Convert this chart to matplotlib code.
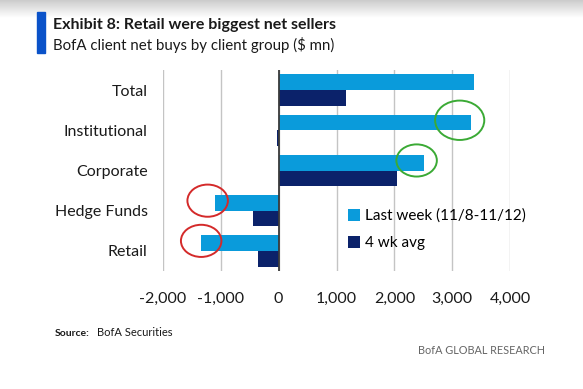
import matplotlib
matplotlib.use("Agg")
import matplotlib.pyplot as plt
import numpy as np
from matplotlib.patches import Ellipse, Patch, Rectangle

categories = ["Total", "Institutional", "Corporate", "Hedge Funds", "Retail"]
last_week = [3370, 3320, 2515, -1100, -1340]
four_wk_avg = [1160, -30, 2050, -440, -360]
xticks = [-2000, -1000, 0, 1000, 2000, 3000, 4000]

# annotation circles: (category, x offset from bar end, colour)
circled = [("Institutional", -190, "#3BAA35"), ("Corporate", -130, "#3BAA35"),
           ("Hedge Funds", -128, "#D42A2A"), ("Retail", 0, "#D42A2A")]

c_light = "#0A9BDB"
c_navy = "#0B226A"
c_text = "#1A1A1A"

plt.rcParams["font.family"] = ["Lato", "DejaVu Sans"]

fig = plt.figure(figsize=(5.83, 3.89), dpi=100)
fig.patch.set_facecolor("white")

# grey shadow at the top of the screenshot
grad = fig.add_axes([0, 0.955, 1, 0.045])
grad.imshow(np.linspace(0.80, 1.0, 50).reshape(-1, 1), cmap="gray", vmin=0, vmax=1,
            aspect="auto", extent=[0, 1, 0, 1])
grad.axis("off")

ax = fig.add_axes([0.2796, 0.3033, 0.5952, 0.5167])
y = np.arange(len(categories))
h = 0.39
ax.barh(y - h / 2, last_week, height=h, color=c_light, zorder=3)
ax.barh(y + h / 2, four_wk_avg, height=h, color=c_navy, zorder=3)

ax.set_xlim(-2000, 4000)
ax.set_ylim(len(categories) - 0.5, -0.5)
ax.set_xticks(xticks)
ax.set_xticklabels([f"{v:,}" for v in xticks], fontsize=11.5, color=c_text)
ax.set_yticks(y)
ax.set_yticklabels(categories, fontsize=11.5, color=c_text)
ax.tick_params(length=0)
ax.tick_params(axis="x", pad=15)
ax.tick_params(axis="y", pad=11)
for s in ax.spines.values():
    s.set_visible(False)
ax.grid(axis="x", color="#C4C4C4", linewidth=1.0, zorder=0)
ax.axvline(0, color="#3A3A3A", linewidth=1.3, zorder=4)

for cat, dx, col in circled:
    i = categories.index(cat)
    v = last_week[i]
    w, hh = (850, 0.98) if cat == "Institutional" else (700, 0.8)
    ax.add_patch(Ellipse((v + dx, i - 0.25), w, hh, fill=False, edgecolor=col,
                         linewidth=1.4, zorder=6, clip_on=False))

handles = [Patch(facecolor=c_light, label="Last week (11/8-11/12)"),
           Patch(facecolor=c_navy, label="4 wk avg")]
ax.legend(handles=handles, loc="upper left", bbox_to_anchor=(0.515, 0.34),
          frameon=False, fontsize=11, handlelength=0.8, handleheight=0.8,
          handletextpad=0.3, labelspacing=0.85, borderaxespad=0)

# title block
fig.patches.append(Rectangle((37 / 583, 1 - 53 / 389), 8 / 583, 41 / 389,
                             transform=fig.transFigure, color="#0A52C9"))
fig.text(53 / 583, 1 - 25 / 389, "Exhibit 8: Retail were biggest net sellers",
         fontsize=11.5, fontweight="bold", color=c_text, va="center")
fig.text(53 / 583, 1 - 45 / 389, "BofA client net buys by client group ($ mn)",
         fontsize=10.8, color=c_text, va="center")

fig.text(55 / 583, 1 - 333 / 389, "Source:", fontsize=7.5, fontweight="bold",
         color=c_text, va="center")
fig.text(97 / 583, 1 - 333 / 389, "BofA Securities", fontsize=8,
         color=c_text, va="center")
fig.text(545 / 583, 1 - 351 / 389, "BofA GLOBAL RESEARCH", fontsize=7.8,
         color="#666666", va="center", ha="right")

fig.savefig("out.png", dpi=100, facecolor="white")
